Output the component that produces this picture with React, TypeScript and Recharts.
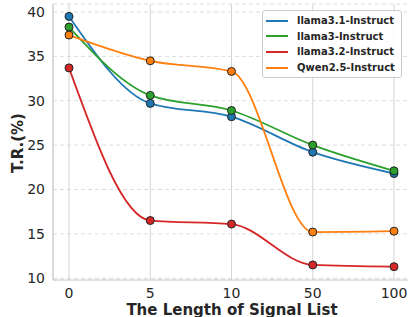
import {
  LineChart,
  Line,
  XAxis,
  YAxis,
  CartesianGrid,
} from 'recharts';

const listLengths = ['0', '5', '10', '50', '100'];
const llama31 = [39.5, 29.7, 28.2, 24.2, 21.8];
const llama3 = [38.3, 30.6, 28.9, 25.0, 22.1];
const llama32 = [33.7, 16.5, 16.1, 11.5, 11.3];
const qwen25 = [37.4, 34.5, 33.3, 15.2, 15.3];
const yTicks = [10, 15, 20, 25, 30, 35, 40];

const series = [
  { key: 'llama31', name: 'llama3.1-Instruct', color: '#1f77b4', values: llama31 },
  { key: 'llama3', name: 'llama3-Instruct', color: '#2ca02c', values: llama3 },
  { key: 'llama32', name: 'llama3.2-Instruct', color: '#d62728', values: llama32 },
  { key: 'qwen25', name: 'Qwen2.5-Instruct', color: '#ff7f0e', values: qwen25 },
];

const chartData = listLengths.map((len, i) => {
  const row: Record<string, string | number> = { len };
  series.forEach((s) => {
    row[s.key] = s.values[i];
  });
  return row;
});

const font = 'DejaVu Sans, Verdana, sans-serif';
const tickStyle = { fontSize: 14, fill: '#262626', fontFamily: font };

// legend drawn on top of the chart so it doesn't eat plot space
function LegendBox() {
  return (
    <div
      style={{
        position: 'absolute',
        left: 262,
        top: 10,
        width: 140,
        boxSizing: 'border-box',
        border: '1px solid #cccccc',
        borderRadius: 3,
        background: 'rgba(255,255,255,0.85)',
        padding: '2px 3px 2px 3px',
        fontFamily: font,
        fontSize: 10,
        fontWeight: 700,
        color: '#262626',
        whiteSpace: 'nowrap',
      }}
    >
      {series.map((s) => (
        <div
          key={s.key}
          style={{ display: 'flex', alignItems: 'center', height: 15.6 }}
        >
          <span
            style={{
              display: 'inline-block',
              width: 22,
              height: 2,
              background: s.color,
              marginRight: 9,
            }}
          />
          {s.name}
        </div>
      ))}
    </div>
  );
}

export default function App() {
  return (
    <div
      style={{
        position: 'absolute',
        left: 0,
        top: 0,
        width: 408,
        height: 317,
        overflow: 'hidden',
        background: '#fff',
      }}
    >
      <LineChart
        width={410}
        height={317}
        data={chartData}
        margin={{ top: 4, right: 0, bottom: 0, left: 0 }}
      >
        <CartesianGrid
          vertical={false}
          stroke="#dddddd"
          strokeDasharray="4 3"
        />
        <CartesianGrid horizontal={false} stroke="#d5d5d5" />
        <XAxis
          dataKey="len"
          type="category"
          padding={{ left: 16, right: 16 }}
          height={37}
          tickLine={false}
          tickSize={0}
          tickMargin={8}
          stroke="#cccccc"
          tick={tickStyle}
        />
        <YAxis
          domain={[9.8, 40.9]}
          ticks={yTicks}
          width={53}
          tickLine={false}
          tickSize={0}
          tickMargin={8}
          stroke="#cccccc"
          tick={tickStyle}
          allowDataOverflow
        />
        {series.map((s) => (
          <Line
            key={s.key}
            type="monotone"
            dataKey={s.key}
            name={s.name}
            stroke={s.color}
            strokeWidth={1.8}
            dot={{ r: 4, fill: s.color, stroke: '#222222', strokeWidth: 1 }}
            activeDot={false}
            isAnimationActive={false}
          />
        ))}
      </LineChart>
      <LegendBox />
      <svg
        width={408}
        height={317}
        style={{ position: 'absolute', left: 0, top: 0, pointerEvents: 'none' }}
      >
        <text
          x={232}
          y={314.5}
          textAnchor="middle"
          fontFamily={font}
          fontSize={15}
          fontWeight={700}
          fill="#262626"
        >
          The Length of Signal List
        </text>
        <text
          x={23}
          y={143}
          textAnchor="middle"
          transform="rotate(-90, 23, 143)"
          fontFamily={font}
          fontSize={15}
          fontWeight={700}
          fill="#262626"
        >
          T.R.(%)
        </text>
      </svg>
    </div>
  );
}
